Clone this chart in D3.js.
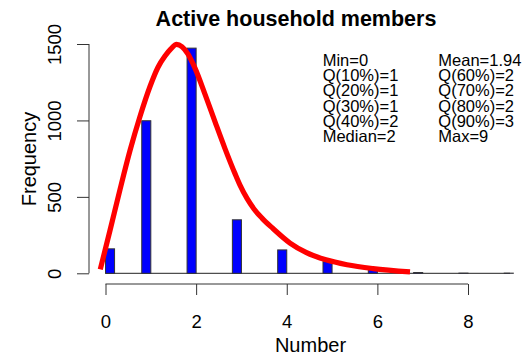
<!DOCTYPE html>
<html>
<head>
<meta charset="utf-8">
<script src="https://cdn.jsdelivr.net/npm/d3@7"></script>
<style>
  html, body { margin: 0; padding: 0; background: #fff; }
  svg { display: block; font-family: "Liberation Sans", Arial, sans-serif; }
</style>
</head>
<body>
<svg id="chart" width="523" height="355"></svg>
<script>
// ---- data ----
const title = "Active household members";
const xLabel = "Number";
const yLabel = "Frequency";
const values = [0, 1, 2, 3, 4, 5, 6, 7, 8, 9];
const counts = [160, 998, 1473, 350, 153, 76, 30, 5, 1, 1];
const xTicks = [0, 2, 4, 6, 8];
const yTicks = [0, 500, 1000, 1500];
const curveX = [-0.115, 0.099, 0.32, 0.541, 0.761, 0.982, 1.159, 1.313, 1.448, 1.567,
                1.688, 1.821, 1.975, 2.195, 2.416, 2.637, 2.858, 2.968, 3.123, 3.277,
                3.453, 3.696, 4.072, 4.425, 4.866, 5.329, 5.903, 6.72];
const curveY = [26, 280, 548, 803, 1026, 1222, 1348, 1421, 1470, 1497,
                1482, 1434, 1342, 1172, 992, 816, 652, 577, 490, 421,
                361, 293, 198, 137, 88, 56, 31, 9];
const statsLeft = ["Min=0", "Q(10%)=1", "Q(20%)=1", "Q(30%)=1", "Q(40%)=2", "Median=2"];
const statsRight = ["Mean=1.94", "Q(60%)=2", "Q(70%)=2", "Q(80%)=2", "Q(90%)=3", "Max=9"];
const binWidth = 0.2;

// ---- scales ----
const svg = d3.select("#chart");
const x = d3.scaleLinear().domain([0, 8]).range([105.5, 468]);
const y = d3.scaleLinear().domain([0, 1500]).range([273.3, 44]);

// baseline at zero
svg.append("line")
  .attr("x1", x(0)).attr("x2", 510)
  .attr("y1", y(0)).attr("y2", y(0))
  .attr("stroke", "#222").attr("stroke-width", 1);

// bars (R-style right-closed bins)
const bins = values.map((v, i) => ({
  lo: v === 0 ? 0 : v - binWidth,
  hi: v === 0 ? binWidth : v,
  n: counts[i]
}));
svg.append("g").selectAll("rect").data(bins).join("rect")
  .attr("x", d => x(d.lo))
  .attr("width", d => x(d.hi) - x(d.lo))
  .attr("y", d => y(d.n))
  .attr("height", d => y(0) - y(d.n))
  .attr("fill", "#0000ff")
  .attr("stroke", "#333")
  .attr("stroke-width", 1);

// density curve
const pts = curveX.map((cx, i) => [cx, curveY[i]]);
svg.append("path")
  .datum(pts)
  .attr("fill", "none")
  .attr("stroke", "#ff0000")
  .attr("stroke-width", 5.2)
  .attr("stroke-linecap", "butt")
  .attr("d", d3.line().x(d => x(d[0])).y(d => y(d[1])).curve(d3.curveMonotoneX));

// x axis
const xAxis = d3.axisBottom(x).tickValues(xTicks).tickFormat(d3.format("d"))
  .tickSize(11).tickSizeOuter(0);
const gx = svg.append("g").attr("transform", "translate(0,284)").call(xAxis);
gx.select(".domain").attr("stroke", "#333").attr("d", `M${x(0)},0H${x(8)}`);
gx.selectAll(".tick line").attr("stroke", "#333");
gx.selectAll(".tick text").attr("font-size", "18.5px").attr("fill", "#000")
  .attr("font-family", "Liberation Sans, Arial, sans-serif")
  .attr("y", 44).attr("dy", null);

// y axis
const yAxis = d3.axisLeft(y).tickValues(yTicks).tickFormat(d3.format("d"))
  .tickSize(12).tickSizeOuter(0);
const gy = svg.append("g").attr("transform", "translate(89,0)").call(yAxis);
gy.select(".domain").attr("stroke", "#333").attr("d", `M0,${y(0)}V${y(1500)}`);
gy.selectAll(".tick line").attr("stroke", "#333");
gy.selectAll(".tick text")
  .attr("font-size", "18.5px").attr("fill", "#000")
  .attr("font-family", "Liberation Sans, Arial, sans-serif")
  .attr("x", null).attr("dy", null)
  .attr("text-anchor", "middle")
  .attr("transform", "translate(-28,0) rotate(-90)");

// title and labels
svg.append("text").attr("x", 296).attr("y", 26)
  .attr("text-anchor", "middle").attr("font-weight", "bold").attr("font-size", "21.5px")
  .text(title);
svg.append("text").attr("x", 310.5).attr("y", 352)
  .attr("text-anchor", "middle").attr("font-size", "20px").text(xLabel);
svg.append("text").attr("transform", "translate(36,159) rotate(-90)")
  .attr("text-anchor", "middle").attr("font-size", "20px").text(yLabel);

// stats text
const sg = svg.append("g").attr("font-size", "16.5px");
sg.selectAll("text.l").data(statsLeft).join("text").attr("class", "l")
  .attr("x", 322.7).attr("y", (d, i) => 65.7 + i * 15.35).text(d => d);
sg.selectAll("text.r").data(statsRight).join("text").attr("class", "r")
  .attr("x", 438.3).attr("y", (d, i) => 65.7 + i * 15.35).text(d => d);
</script>
</body>
</html>
